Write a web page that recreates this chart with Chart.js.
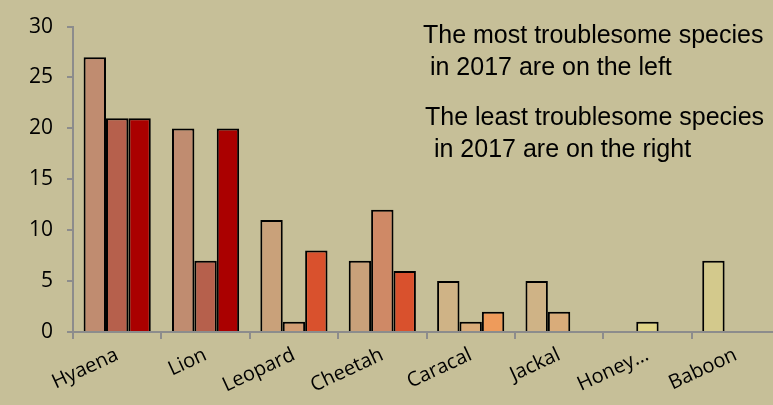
<!DOCTYPE html>
<html>
<head>
<meta charset="utf-8">
<script src="https://cdn.jsdelivr.net/npm/chart.js@4/dist/chart.umd.min.js"></script>
<style>
  html, body { margin: 0; padding: 0; background: #C6BF98; overflow: hidden; }
  #wrap { width: 780px; height: 405px; position: relative; }
</style>
</head>
<body>
<div id="wrap"><canvas id="chart"></canvas></div>
<script>
// data
const species = ['Hyaena', 'Lion', 'Leopard', 'Cheetah', 'Caracal', 'Jackal', 'Honey…', 'Baboon'];
const seriesA = [27, 20, 11, 7, 5, 5, null, 7];
const seriesB = [21, 7, 1, 12, 1, 2, 1, null];
const seriesC = [21, 20, 8, 6, 2, null, null, null];
const yTicks = [0, 5, 10, 15, 20, 25, 30];
const notes = [
    'The most troublesome species',
    ' in 2017 are on the left',
    'The least troublesome species',
    ' in 2017 are on the right'
];

// bar fills change along the categories
const colorsA = ['#C08C70', '#C08C70', '#C9A17A', '#C9A17A', '#CFB386', '#CFB386', '#D3C98C', '#D3C98C'];
const colorsB = ['#B6604C', '#B6604C', '#D39E74', '#CF8966', '#D9AC7A', '#D9AC7A', '#E0D488', '#E0D488'];
const colorsC = ['#AA0000', '#AA0000', '#D9512D', '#D9512D', '#EE9B5B', '#EE9B5B', '#EE9B5B', '#EE9B5B'];

const axisGray = '#8C8C8C';

const notesPlugin = {
    id: 'notes',
    afterDraw(chart) {
        const c = chart.ctx;
        c.save();
        c.fillStyle = '#000';
        c.font = '25px "Liberation Sans", Arial, sans-serif';
        c.textBaseline = 'alphabetic';
        c.textAlign = 'left';
        c.fillText(notes[0], 423, 43);
        c.fillText(notes[1], 423, 75);
        c.fillText(notes[2], 425, 125);
        c.fillText(notes[3], 427, 157);
        c.restore();
    }
};

const ds = (data, colors) => ({
    data: data,
    backgroundColor: colors,
    borderColor: '#000',
    borderWidth: 2,
    categoryPercentage: 0.76,
    barPercentage: 1.0
});

new Chart(document.getElementById('chart'), {
    type: 'bar',
    data: {
        labels: species,
        datasets: [ds(seriesA, colorsA), ds(seriesB, colorsB), ds(seriesC, colorsC)]
    },
    options: {
        responsive: true,
        maintainAspectRatio: false,
        animation: false,
        layout: { padding: { top: 15, right: 0, left: 0, bottom: 0 } },
        plugins: {
            legend: { display: false },
            tooltip: { enabled: false }
        },
        scales: {
            x: {
                grid: { drawOnChartArea: false, drawTicks: true, tickLength: 7, color: axisGray, lineWidth: 2 },
                border: { color: axisGray, width: 2 },
                ticks: {
                    color: '#000',
                    font: { family: '"Open Sans", sans-serif', size: 20 },
                    minRotation: 25,
                    maxRotation: 25,
                    autoSkip: false,
                    padding: 4
                },
                afterFit(scale) {
                    scale.height = 73;
                    scale.paddingRight = 0;
                    scale.paddingLeft = 0;
                }
            },
            y: {
                min: 0,
                max: 30,
                afterBuildTicks(scale) { scale.ticks = yTicks.map(v => ({ value: v })); },
                grid: { drawOnChartArea: false, drawTicks: true, tickLength: 6, color: axisGray, lineWidth: 2 },
                border: { color: axisGray, width: 2 },
                ticks: {
                    color: '#000',
                    font: { family: '"Open Sans", sans-serif', size: 21 },
                    padding: 14
                },
                afterFit(scale) { scale.width = 73; }
            }
        }
    },
    plugins: [notesPlugin]
});
</script>
</body>
</html>
